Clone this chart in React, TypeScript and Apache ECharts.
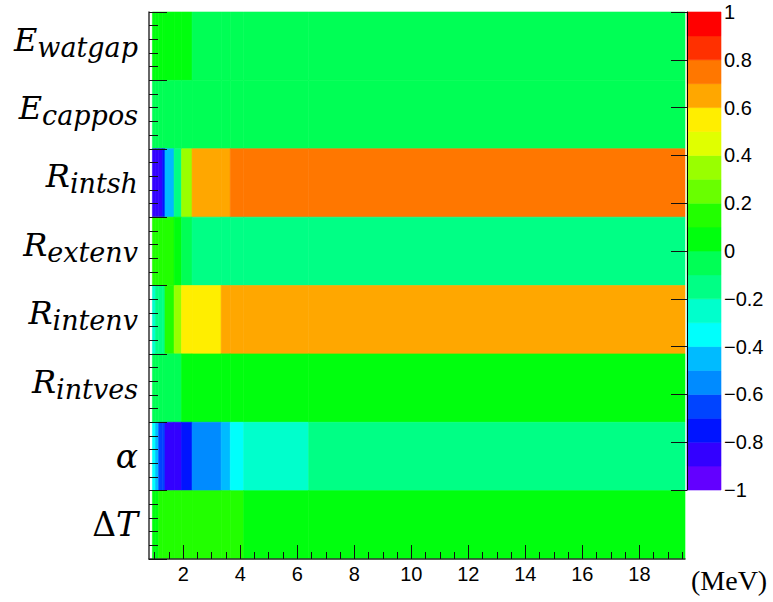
import React, { useEffect, useRef } from 'react';
import * as echarts from 'echarts';

// Row labels (top to bottom), as rich text: main symbol + subscript
const rowLabels = [
  '{m|E}{s|watgap}',
  '{m|E}{s|cappos}',
  '{m|R}{s|intsh}',
  '{m|R}{s|extenv}',
  '{m|R}{s|intenv}',
  '{m|R}{s|intves}',
  '{n|α}',
  '{u|Δ}{n|T}',
];

// Energy bin edges (MeV)
const binEdges = [0.92, 1.03, 1.14, 1.27, 1.36, 1.68, 1.94, 2.31, 3.33, 3.65, 4.12, 6.4, 19.6];

// Correlation values per row (one per bin)
const eWatgap = [0.05, 0.05, 0.05, 0.05, 0.05, 0.05, 0.05, -0.05, -0.05, -0.05, -0.05, -0.05];
const eCappos = [-0.05, -0.05, -0.05, -0.05, -0.05, -0.05, -0.05, -0.05, -0.05, -0.05, -0.05, -0.05];
const rIntsh = [-0.85, -0.85, -0.85, -0.75, -0.45, -0.15, 0.35, 0.65, 0.65, 0.75, 0.75, 0.75];
const rExtenv = [0.15, 0.15, 0.15, 0.15, 0.15, 0.05, -0.05, -0.15, -0.15, -0.15, -0.15, -0.15];
const rIntenv = [-0.25, -0.15, -0.15, -0.15, 0.15, 0.35, 0.55, 0.55, 0.65, 0.65, 0.65, 0.65];
const rIntves = [-0.05, -0.05, -0.05, -0.05, -0.05, -0.05, 0.05, 0.05, 0.05, 0.05, 0.05, 0.05];
const alphaRow = [-0.35, -0.45, -0.65, -0.65, -0.85, -0.85, -0.75, -0.55, -0.45, -0.35, -0.25, -0.15];
const deltaT = [0.05, 0.05, 0.15, 0.15, 0.15, 0.15, 0.15, 0.15, 0.15, 0.15, 0.05, 0.05];
const rowValues = [eWatgap, eCappos, rIntsh, rExtenv, rIntenv, rIntves, alphaRow, deltaT];

// Contour levels and palette colours (violet -> red)
const levels = [-1, -0.9, -0.8, -0.7, -0.6, -0.5, -0.4, -0.3, -0.2, -0.1, 0, 0.1, 0.2, 0.3, 0.4, 0.5, 0.6, 0.7, 0.8, 0.9, 1];
const paletteColors = [
  '#6300FF', '#3300FF', '#0014FF', '#0044FF', '#008BFF', '#00BBFF', '#00FFFC', '#00FFCC', '#00FF85', '#00FF55',
  '#00FF0E', '#22FF00', '#69FF00', '#99FF00', '#E0FF00', '#FFEE00', '#FFA700', '#FF7700', '#FF3000', '#FF0000',
];

// Axis ticks
const xMajorTicks = [2, 4, 6, 8, 10, 12, 14, 16, 18];
const xMinorTicks = [1, 1.5, 2.5, 3, 3.5, 4.5, 5, 5.5, 6.5, 7, 7.5, 8.5, 9, 9.5, 10.5, 11, 11.5, 12.5, 13, 13.5, 14.5, 15, 15.5, 16.5, 17, 17.5, 18.5, 19, 19.5];

export default function App() {
  const ref = useRef<HTMLDivElement>(null);
  useEffect(() => {
    if (!ref.current) return;
    const chart = echarts.init(ref.current, null, { renderer: 'svg' });

    const heatData: number[][] = [];
    rowValues.forEach((vals, r) => {
      vals.forEach((v, b) => {
        heatData.push([binEdges[b], binEdges[b + 1], r, v]);
      });
    });
    const barData: number[][] = [];
    for (let i = 0; i < paletteColors.length; i++) {
      barData.push([levels[i], levels[i + 1], 0.5, (levels[i] + levels[i + 1]) / 2]);
    }

    const serif = '"DejaVu Serif", serif';
    const sans = '"Liberation Sans", Arial, sans-serif';
    const tickLine = { color: '#111', width: 1 };

    chart.setOption({
      animation: false,
      backgroundColor: '#fff',
      grid: [
        { left: 149, top: 12, width: 536, height: 547 },
        { left: 687, top: 12, width: 34, height: 478 },
      ],
      visualMap: {
        type: 'piecewise',
        show: false,
        dimension: 3,
        seriesIndex: [0, 1],
        pieces: paletteColors.map((c, i) => ({ gte: levels[i], lt: levels[i + 1] + (i === 19 ? 0.001 : 0), color: c })),
      },
      xAxis: [
        {
          gridIndex: 0, type: 'value', min: 0.8, max: 19.6, position: 'bottom', z: 10,
          axisLine: { show: true, lineStyle: { color: '#333', width: 1.5 } },
          axisTick: { show: true, inside: true, length: 14, customValues: xMajorTicks, lineStyle: tickLine },
          axisLabel: { customValues: xMajorTicks, fontSize: 20, fontFamily: sans, color: '#000', margin: 5 },
          splitLine: { show: false },
        },
        {
          gridIndex: 0, type: 'value', min: 0.8, max: 19.6, position: 'bottom', z: 10,
          axisLine: { show: false },
          axisTick: { show: true, inside: true, length: 7, customValues: xMinorTicks, lineStyle: tickLine },
          axisLabel: { show: false },
          splitLine: { show: false },
        },
        { gridIndex: 1, type: 'value', min: 0, max: 1, show: false },
      ],
      yAxis: [
        {
          gridIndex: 0, type: 'category', data: rowLabels, inverse: true,
          axisLine: { show: false }, axisTick: { show: false }, splitLine: { show: false },
          axisLabel: {
            margin: 11,
            color: '#000',
            rich: {
              m: { fontFamily: serif, fontStyle: 'italic', fontSize: 32, lineHeight: 36, padding: [0, 0, 13, 0], color: '#000' },
              s: { fontFamily: serif, fontStyle: 'italic', fontSize: 27, lineHeight: 36, padding: [2, 0, 0, 0], color: '#000' },
              n: { fontFamily: serif, fontStyle: 'italic', fontSize: 33, lineHeight: 36, color: '#000' },
              u: { fontFamily: serif, fontSize: 33, lineHeight: 36, color: '#000' },
            },
          },
        },
        {
          gridIndex: 0, type: 'value', min: 0, max: 8, interval: 1, position: 'left', z: 10,
          axisLine: { show: true, lineStyle: { color: '#333', width: 1.5 } },
          axisTick: { show: true, inside: true, length: 18, lineStyle: tickLine },
          minorTick: { show: true, splitNumber: 5, length: 9, lineStyle: tickLine },
          axisLabel: { show: false }, splitLine: { show: false }, minorSplitLine: { show: false },
        },
        {
          gridIndex: 1, type: 'value', min: -1, max: 1, interval: 0.2, position: 'right', z: 10,
          axisLine: { show: true, lineStyle: { color: '#000', width: 1 } },
          axisTick: { show: true, inside: true, length: 16, lineStyle: tickLine },
          axisLabel: {
            fontSize: 20, fontFamily: sans, color: '#000', margin: 3,
            formatter: (v: number) => {
              const r = Math.round(v * 10) / 10;
              return r < 0 ? '\u2212' + String(-r) : String(r);
            },
          },
          splitLine: { show: false },
        },
      ],
      series: [
        {
          type: 'custom',
          xAxisIndex: 0,
          yAxisIndex: 0,
          encode: { x: [0, 1], y: 2 },
          data: heatData,
          renderItem: (params: any, api: any) => {
            const p0 = api.coord([api.value(0), api.value(2)]);
            const p1 = api.coord([api.value(1), api.value(2)]);
            const h = api.size([0, 1])[1];
            const c = api.visual('color');
            return {
              type: 'rect',
              shape: { x: p0[0], y: p0[1] - h / 2, width: p1[0] - p0[0], height: h },
              style: { fill: c, stroke: c, lineWidth: 0.6 },
            };
          },
        },
        {
          type: 'custom',
          xAxisIndex: 2,
          yAxisIndex: 2,
          encode: { x: 2, y: [0, 1] },
          data: barData,
          renderItem: (params: any, api: any) => {
            const a = api.coord([0, api.value(0)]);
            const b = api.coord([1, api.value(1)]);
            const c = api.visual('color');
            return {
              type: 'rect',
              shape: { x: a[0], y: b[1], width: b[0] - a[0], height: a[1] - b[1] },
              style: { fill: c, stroke: c, lineWidth: 0.6 },
            };
          },
        },
      ],
      graphic: [
        {
          type: 'text', left: 691, top: 566,
          style: { text: '(MeV)', font: '28px "Liberation Serif", serif', fill: '#000' },
        },
      ],
    });
    return () => chart.dispose();
  }, []);
  return <div ref={ref} style={{ position: 'absolute', left: 0, top: 0, width: 773, height: 602 }} />;
}
